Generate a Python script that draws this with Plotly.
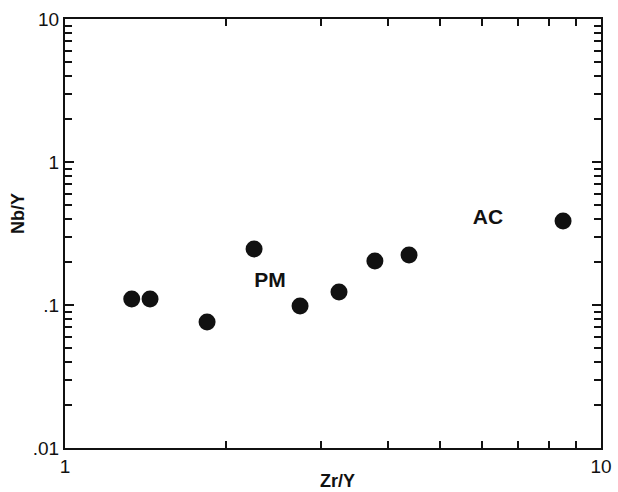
import plotly.graph_objects as go

zr_y = [1.332, 1.441, 1.841, 2.253, 2.745, 3.245, 3.786, 4.384, 8.496]
nb_y = [0.110, 0.110, 0.0760, 0.2466, 0.0984, 0.1233, 0.203, 0.2234, 0.387]

x_major = [1, 10]
x_major_text = ["1", "10"]
x_minor = [2, 3, 4, 5, 6, 7, 8, 9]
y_major = [0.01, 0.1, 1, 10]
y_major_text = [".01", ".1", "1", "10"]
y_minor = [m * d for d in [0.01, 0.1, 1] for m in range(2, 10)]

labels = ["PM", "AC"]
label_x = [2.413, 6.153]
label_y = [0.145, 0.399]

x_title = "Zr/Y"
y_title = "Nb/Y"

font = "Liberation Sans, Arial, sans-serif"
ink = "#111111"

fig = go.Figure()
fig.add_trace(go.Scatter(
    x=zr_y, y=nb_y, mode="markers",
    marker=dict(size=17, color=ink, line=dict(width=0)),
    showlegend=False, cliponaxis=False,
))
fig.add_trace(go.Scatter(
    x=label_x, y=label_y, mode="text", text=labels,
    textfont=dict(family=font, size=21, color=ink, weight="bold"),
    showlegend=False,
))

axis_common = dict(
    type="log", showgrid=False, zeroline=False, automargin=False,
    showline=True, linecolor=ink, linewidth=2, mirror="allticks",
    ticks="inside", ticklen=9, tickwidth=2, tickcolor=ink,
    tickfont=dict(family=font, size=19, color=ink),
)

fig.update_xaxes(
    **axis_common,
    range=[0, 1],
    tickmode="array", tickvals=x_major, ticktext=x_major_text,
    minor=dict(tickvals=x_minor, ticks="inside", ticklen=7, tickwidth=2, tickcolor=ink),
)
fig.update_yaxes(
    **axis_common,
    range=[-2, 1],
    tickmode="array", tickvals=y_major, ticktext=y_major_text,
    minor=dict(tickvals=y_minor, ticks="inside", ticklen=7, tickwidth=2, tickcolor=ink),
)

fig.add_annotation(
    text="<b>" + x_title + "</b>", xref="paper", yref="paper",
    x=0.509, y=-0.078, showarrow=False, xanchor="center", yanchor="middle",
    font=dict(family=font, size=18, color=ink),
)
fig.add_annotation(
    text="<b>" + y_title + "</b>", xref="paper", yref="paper",
    x=-0.0877, y=0.548, showarrow=False, xanchor="center", yanchor="middle",
    textangle=-90, font=dict(family=font, size=18, color=ink),
)

fig.update_layout(
    width=618, height=492,
    margin=dict(l=65, r=17, t=19, b=44),
    plot_bgcolor="white", paper_bgcolor="white",
)

fig.write_html("out.html")
